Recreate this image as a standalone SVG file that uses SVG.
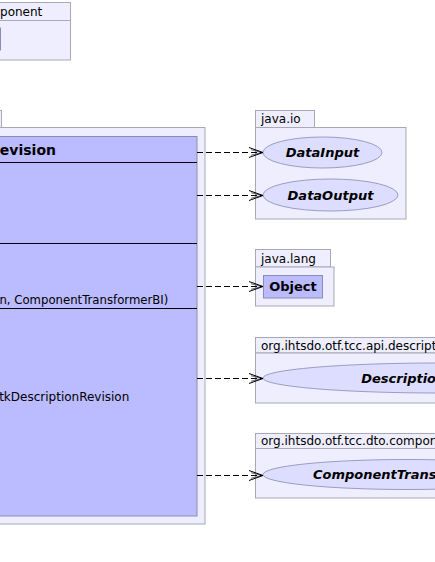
<svg xmlns="http://www.w3.org/2000/svg" width="435" height="562" viewBox="0 0 435 562">
<defs>
<style>
.pkg{fill:#EEEEFF;stroke:#A8A8B8;stroke-width:1}
.cls{fill:#BBBBFF;stroke:#8C8CB0;stroke-width:1}
.ifc{fill:#DDDDFF;stroke:#9C9CC0;stroke-width:1}
.sep{stroke:#000;stroke-width:1}
.t{font-family:"DejaVu Sans",sans-serif;font-size:12px;fill:#000}
.tm{font-family:"DejaVu Sans",sans-serif;font-size:11.7px;fill:#000}
.tn{font-family:"DejaVu Sans",sans-serif;font-size:14px;font-weight:bold;fill:#000}
.ti{font-family:"DejaVu Sans",sans-serif;font-size:13px;font-weight:bold;font-style:italic;fill:#000}
.tb{font-family:"DejaVu Sans",sans-serif;font-size:13px;font-weight:bold;fill:#000}
.dep{fill:none;stroke:#000;stroke-width:1;stroke-dasharray:6,3}
</style>
<marker id="open" markerWidth="16" markerHeight="12" refX="15" refY="6" orient="auto" markerUnits="userSpaceOnUse">
<polyline points="1,1 15,6 1,11" fill="none" stroke="#000" stroke-width="1"/>
<polyline points="3,3.2 14,6 3,8.8" fill="none" stroke="#000" stroke-width="0.6"/>
</marker>
</defs>
<g id="pkg-component-top">
<rect class="pkg" x="-80" y="2.5" width="150.5" height="18"/>
<rect class="pkg" x="-80" y="20.5" width="150.5" height="39.5"/>
<text class="t" x="42.3" y="16" text-anchor="end">org.ihtsdo.otf.tcc.dto.component</text>
<rect class="cls" x="-60" y="28" width="60.5" height="22"/>
</g>
<g id="pkg-main">
<rect class="pkg" x="-80" y="110.5" width="81.5" height="17"/>
<rect class="pkg" x="-80" y="127.5" width="285" height="396.5"/>
</g>
<g id="TtkDescriptionRevision">
<rect class="cls" x="-60" y="136.5" width="257" height="379.5"/>
<text class="tn" x="56" y="155" text-anchor="end">TtkDescriptionRevision</text>
<line class="sep" x1="-60" y1="162.5" x2="197" y2="162.5"/>
<line class="sep" x1="-60" y1="243.5" x2="197" y2="243.5"/>
<text class="tm" x="168.3" y="303.5" text-anchor="end">+ TtkDescriptionRevision(TtkDescriptionRevision, ComponentTransformerBI)</text>
<line class="sep" x1="-60" y1="308.5" x2="197" y2="308.5"/>
<text class="t" x="129.3" y="401" text-anchor="end">+ makeTransform(ComponentTransformerBI): TtkDescriptionRevision</text>
</g>
<g id="pkg-java-io">
<rect class="pkg" x="255.5" y="110.5" width="59" height="17"/>
<rect class="pkg" x="255.5" y="127.5" width="150.5" height="91.5"/>
<text class="t" x="261" y="123">java.io</text>
</g>
<g id="DataInput">
<ellipse class="ifc" cx="322.5" cy="152.5" rx="59.5" ry="15.5"/>
<text class="ti" x="322.5" y="157" text-anchor="middle">DataInput</text>
</g>
<g id="DataOutput">
<ellipse class="ifc" cx="330.5" cy="195" rx="67.5" ry="16"/>
<text class="ti" x="330.5" y="199.5" text-anchor="middle">DataOutput</text>
</g>
<g id="pkg-java-lang">
<rect class="pkg" x="255.5" y="249.5" width="75" height="17.5"/>
<rect class="pkg" x="255.5" y="267" width="78.5" height="39"/>
<text class="t" x="261" y="262.5">java.lang</text>
</g>
<g id="Object">
<rect class="cls" x="263.5" y="275.5" width="59" height="22.5"/>
<text class="tb" x="293" y="291" text-anchor="middle">Object</text>
</g>
<g id="pkg-api-description">
<rect class="pkg" x="255.5" y="337.5" width="250" height="15.5"/>
<rect class="pkg" x="255.5" y="353" width="250" height="50"/>
<text class="t" x="261" y="349.5">org.ihtsdo.otf.tcc.api.description</text>
</g>
<g id="DescriptionVersionBI">
<ellipse class="ifc" cx="438" cy="378" rx="175" ry="15"/>
<text class="ti" x="438" y="382.5" text-anchor="middle">DescriptionVersionBI</text>
</g>
<g id="pkg-dto-component">
<rect class="pkg" x="255.5" y="433.5" width="250" height="15"/>
<rect class="pkg" x="255.5" y="448.5" width="250" height="49.5"/>
<text class="t" x="261" y="445">org.ihtsdo.otf.tcc.dto.component</text>
</g>
<g id="ComponentTransformerBI">
<ellipse class="ifc" cx="407" cy="474.5" rx="144" ry="15"/>
<text class="ti" x="407" y="479" text-anchor="middle">ComponentTransformerBI</text>
</g>
<g id="connectors">
<line class="dep" x1="197" y1="152.5" x2="263" y2="152.5" marker-end="url(#open)"/>
<line class="dep" x1="197" y1="195.5" x2="263" y2="195.5" marker-end="url(#open)"/>
<line class="dep" x1="197" y1="286.5" x2="263" y2="286.5" marker-end="url(#open)"/>
<line class="dep" x1="197" y1="378.5" x2="263" y2="378.5" marker-end="url(#open)"/>
<line class="dep" x1="197" y1="475.5" x2="263" y2="475.5" marker-end="url(#open)"/>
</g>
</svg>
